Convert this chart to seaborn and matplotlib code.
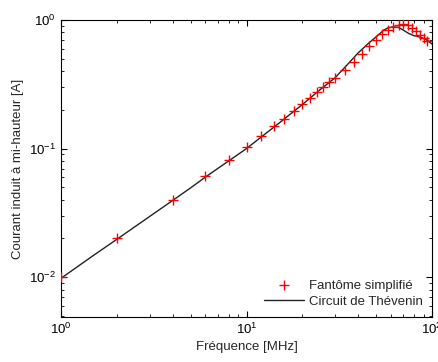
import numpy as np
import pandas as pd
import matplotlib
matplotlib.use("Agg")
import matplotlib.pyplot as plt
import seaborn as sns

# Fantôme simplifié (mesures)
fant_freq = [1, 2, 4, 6, 8, 10, 12, 14, 16, 18, 20, 22, 24, 26, 28, 30,
             34, 38, 42, 46, 50, 54, 58, 62, 66, 70, 74, 78, 82, 86, 90, 94]
fant_courant = [0.010, 0.020, 0.040, 0.061, 0.081, 0.102, 0.126, 0.149,
                0.171, 0.196, 0.222, 0.246, 0.275, 0.299, 0.327, 0.351,
                0.405, 0.468, 0.545, 0.624, 0.700, 0.785, 0.843, 0.880,
                0.920, 0.935, 0.910, 0.870, 0.820, 0.770, 0.730, 0.690]

# Circuit de Thévenin
thev_freq = [1, 1.5, 2, 3, 4, 5, 6, 8, 10, 12, 15, 20, 25, 30, 35, 40, 45,
             50, 55, 58, 62, 66, 70, 75, 80, 85, 90, 95, 100]
thev_courant = [0.0098, 0.0148, 0.0197, 0.0296, 0.0395, 0.0495, 0.060,
                0.080, 0.100, 0.123, 0.158, 0.220, 0.288, 0.355, 0.450,
                0.555, 0.650, 0.740, 0.835, 0.870, 0.885, 0.875, 0.835,
                0.785, 0.755, 0.740, 0.720, 0.690, 0.650]

sns.set_style("ticks")
plt.rcParams['font.family'] = ['Liberation Sans', 'DejaVu Sans']
plt.rcParams['mathtext.fontset'] = 'custom'
plt.rcParams['mathtext.rm'] = 'Liberation Sans'
plt.rcParams['mathtext.it'] = 'Liberation Sans'
plt.rcParams['font.size'] = 9.5

fig = plt.figure(figsize=(4.38, 3.62), dpi=100)
ax = fig.add_axes([61 / 438, 45 / 362, 371 / 438, 297 / 362])

df_fant = pd.DataFrame({'f': fant_freq, 'i': fant_courant})
df_thev = pd.DataFrame({'f': thev_freq, 'i': thev_courant})

sns.scatterplot(data=df_fant, x='f', y='i', marker='+', color='red', s=45,
                linewidth=1.0, ax=ax, label='Fantôme simplifié', zorder=3)
sns.lineplot(data=df_thev, x='f', y='i', color='#222222', linewidth=1.0,
             ax=ax, label='Circuit de Thévenin', zorder=2)

ax.set_xscale('log')
ax.set_yscale('log')
ax.set_xlim(1, 100)
ax.set_ylim(0.0049, 1)

for s in ax.spines.values():
    s.set_visible(True)
    s.set_color('black')
    s.set_linewidth(0.8)
ax.tick_params(which='both', direction='in', top=True, right=True,
               colors='black', labelsize=9.5)
ax.tick_params(which='major', length=4, width=0.8)
ax.tick_params(which='minor', length=2.5, width=0.6)

ax.set_xlabel('Fréquence [MHz]', fontsize=9.5, labelpad=3)
ax.set_ylabel('Courant induit à mi-hauteur [A]', fontsize=9.5, labelpad=4)

leg = ax.legend(loc='lower right', frameon=False, fontsize=9.5,
                handlelength=3, handletextpad=0.4, labelspacing=0.3,
                borderaxespad=0.3)

fig.savefig('out.png', dpi=100)
